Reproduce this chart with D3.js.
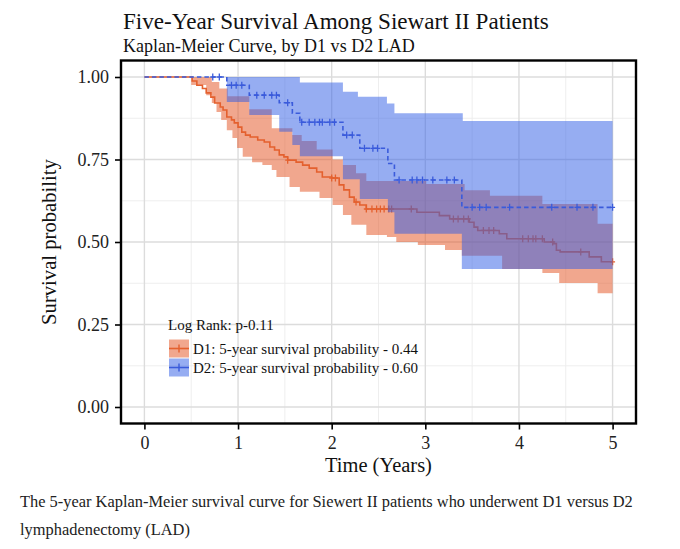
<!DOCTYPE html>
<html><head><meta charset="utf-8">
<script src="https://cdn.jsdelivr.net/npm/d3@7"></script>
<style>body{margin:0;background:#fff} svg{display:block}</style>
</head><body>
<svg id="c" width="680" height="549"></svg>
<script>
// ---------- data ----------
const titleText = "Five-Year Survival Among Siewart II Patients";
const subtitleText = "Kaplan-Meier Curve, by D1 vs D2 LAD";
const xLabel = "Time (Years)";
const yLabel = "Survival probability";
const captionLines = ["The 5-year Kaplan-Meier survival curve for Siewert II patients who underwent D1 versus D2",
                      "lymphadenectomy (LAD)"];
const xTicks = [0, 1, 2, 3, 4, 5];
const yTicks = [0, 0.25, 0.5, 0.75, 1];
const yTickLabels = ["0.00", "0.25", "0.50", "0.75", "1.00"];
const legendTitle = "Log Rank: p-0.11";
const seriesNames = ["D1: 5-year survival probability - 0.44", "D2: 5-year survival probability - 0.60"];

// D1 step curve
const d1Time = [0.51,0.56,0.62,0.66,0.71,0.75,0.81,0.84,0.88,0.93,0.96,1.00,1.04,1.08,1.13,1.21,1.28,1.34,1.39,1.44,1.49,1.53,1.62,1.69,1.76,1.84,1.90,2.00,2.08,2.13,2.19,2.24,2.30,2.37,2.91,3.15,3.26,3.47,3.52,3.56,3.79,3.87,4.27,4.37,4.40,4.44,4.75,4.88];
const d1Surv = [0.988,0.975,0.965,0.952,0.939,0.921,0.909,0.900,0.879,0.870,0.861,0.848,0.833,0.824,0.818,0.809,0.803,0.788,0.779,0.764,0.758,0.748,0.742,0.733,0.724,0.712,0.697,0.694,0.673,0.658,0.636,0.621,0.612,0.600,0.59,0.58,0.57,0.56,0.545,0.535,0.525,0.51,0.50,0.495,0.475,0.47,0.455,0.44];
const d1UpTime = [0.50,0.72,0.80,0.89,1.12,1.36,1.58,1.68,1.84,2.01,2.12,2.26,2.37,3.01,3.42,3.69,4.25,4.84];
const d1Up = [1.0,0.985,0.965,0.942,0.902,0.845,0.824,0.806,0.78,0.75,0.733,0.708,0.685,0.676,0.657,0.64,0.615,0.555];
const d1LoTime = [0.50,0.66,0.72,0.77,0.82,0.88,0.94,0.99,1.05,1.15,1.26,1.36,1.41,1.55,1.66,1.87,2.01,2.12,2.21,2.37,2.59,2.69,2.92,3.21,3.39,3.82,4.25,4.43,4.84];
const d1Lo = [0.976,0.945,0.921,0.894,0.87,0.839,0.815,0.785,0.758,0.742,0.733,0.718,0.697,0.667,0.652,0.633,0.612,0.582,0.552,0.521,0.515,0.50,0.491,0.476,0.458,0.418,0.406,0.376,0.345];
const d1Censor = [1.53,2.00,2.04,2.26,2.37,2.43,2.48,2.52,2.56,2.61,2.64,2.85,3.30,3.35,3.41,3.46,3.62,3.68,3.73,4.04,4.10,4.15,4.18,4.25,4.36,4.66,5.0];

// D2 step curve
const d2Time = [0.88,1.12,1.44,1.58,1.66,2.12,2.30,2.60,2.67,3.39];
const d2Surv = [0.975,0.945,0.922,0.89,0.863,0.824,0.784,0.738,0.688,0.605];
const d2UpTime = [0.88,1.66,2.12,2.28,2.59,2.67,3.40];
const d2Up = [1.0,0.983,0.955,0.94,0.92,0.89,0.867];
const d2LoTime = [0.88,1.12,1.44,1.58,1.66,2.12,2.30,2.60,2.67,3.39];
const d2Lo = [0.924,0.885,0.834,0.794,0.76,0.69,0.63,0.59,0.525,0.418];
const d2Censor = [0.73,0.80,0.93,0.98,1.04,1.20,1.28,1.36,1.41,1.53,1.68,1.76,1.82,1.87,1.90,1.98,2.03,2.16,2.22,2.35,2.44,2.49,2.72,2.86,2.91,2.97,3.08,3.23,3.31,3.50,3.58,3.65,3.90,4.35,4.62,4.79,5.0];
const tMax = 5.0;

// ---------- styles ----------
const red = "#E4602E", redFill = "#E4501E";
const blue = "#3A5BDB", blueFill = "#2E5CE6";
const serif = "'Liberation Serif','Times New Roman',serif";

const svg = d3.select("#c");
const panel = {l:121, r:636, t:60.5, b:423.5};
const x = d3.scaleLinear().domain([-0.25, 5.25]).range([panel.l, panel.r]);
const y = d3.scaleLinear().domain([-0.05, 1.05]).range([panel.b, panel.t]);

function fit(sel, w) {
  const L = sel.node().getComputedTextLength();
  sel.attr("font-size", parseFloat(sel.attr("font-size")) * w / L);
  return sel;
}
function stepVal(ts, vs, t, init) {
  const i = d3.bisectRight(ts, t) - 1;
  return i < 0 ? init : vs[i];
}

svg.append("rect").attr("width", 680).attr("height", 549).attr("fill", "#fff");

svg.append("defs").append("clipPath").attr("id", "clip")
  .append("rect").attr("x", panel.l).attr("y", panel.t)
  .attr("width", panel.r - panel.l).attr("height", panel.b - panel.t);

// grid
const g = svg.append("g").attr("clip-path", "url(#clip)");
const xMinor = d3.range(0.5, 5, 1), yMinor = d3.range(0.125, 1, 0.25);
g.selectAll(".xm").data(xMinor).join("line")
  .attr("x1", d => x(d)).attr("x2", d => x(d)).attr("y1", panel.t).attr("y2", panel.b)
  .attr("stroke", "#ECECEC").attr("stroke-width", 0.9);
g.selectAll(".ym").data(yMinor).join("line")
  .attr("y1", d => y(d)).attr("y2", d => y(d)).attr("x1", panel.l).attr("x2", panel.r)
  .attr("stroke", "#ECECEC").attr("stroke-width", 0.9);
g.selectAll(".xM").data(xTicks).join("line")
  .attr("x1", d => x(d)).attr("x2", d => x(d)).attr("y1", panel.t).attr("y2", panel.b)
  .attr("stroke", "#DCDCDC").attr("stroke-width", 1.4);
g.selectAll(".yM").data(yTicks).join("line")
  .attr("y1", d => y(d)).attr("y2", d => y(d)).attr("x1", panel.l).attr("x2", panel.r)
  .attr("stroke", "#DCDCDC").attr("stroke-width", 1.4);

// helpers for series
function bandData(upT, up, loT, lo) {
  const ts = Array.from(new Set(upT.concat(loT))).sort((a, b) => a - b);
  const rows = ts.map(t => ({t, up: stepVal(upT, up, t, 1), lo: stepVal(loT, lo, t, 1)}));
  const last = rows[rows.length - 1];
  rows.push({t: tMax, up: last.up, lo: last.lo});
  return rows;
}
function curveData(ts, vs) {
  const rows = [{t: 0, s: 1}];
  ts.forEach((t, i) => rows.push({t, s: vs[i]}));
  rows.push({t: tMax, s: vs[vs.length - 1]});
  return rows;
}
const area = d3.area().curve(d3.curveStepAfter).x(d => x(d.t)).y0(d => y(d.lo)).y1(d => y(d.up));
const line = d3.line().curve(d3.curveStepAfter).x(d => x(d.t)).y(d => y(d.s));

function drawSeries(ts, vs, upT, up, loT, lo, cens, col, fillCol, dash) {
  g.append("path").datum(bandData(upT, up, loT, lo)).attr("d", area)
    .attr("fill", fillCol).attr("fill-opacity", 0.5);
  g.append("path").datum(curveData(ts, vs)).attr("d", line)
    .attr("fill", "none").attr("stroke", col).attr("stroke-width", 1.6)
    .attr("stroke-dasharray", dash);
  g.selectAll(null).data(cens).join("line")
    .attr("x1", d => x(d)).attr("x2", d => x(d))
    .attr("y1", d => y(stepVal(ts, vs, d, 1)) - 3.5).attr("y2", d => y(stepVal(ts, vs, d, 1)) + 3.5)
    .attr("stroke", col).attr("stroke-width", 1.3);
  g.selectAll(null).data(cens).join("line")
    .attr("x1", d => x(d) - 2.5).attr("x2", d => x(d) + 2.5)
    .attr("y1", d => y(stepVal(ts, vs, d, 1))).attr("y2", d => y(stepVal(ts, vs, d, 1)))
    .attr("stroke", col).attr("stroke-width", 1.3);
}
drawSeries(d1Time, d1Surv, d1UpTime, d1Up, d1LoTime, d1Lo, d1Censor, red, redFill, null);
drawSeries(d2Time, d2Surv, d2UpTime, d2Up, d2LoTime, d2Lo, d2Censor, blue, blueFill, "4.5,3");

// panel border
svg.append("rect").attr("x", panel.l).attr("y", panel.t)
  .attr("width", panel.r - panel.l).attr("height", panel.b - panel.t)
  .attr("fill", "none").attr("stroke", "#000").attr("stroke-width", 2.4);

// axes
const xAxis = svg.append("g").attr("transform", `translate(0,${panel.b})`)
  .call(d3.axisBottom(x).tickValues(xTicks).tickFormat(d3.format("d")).tickSize(6).tickPadding(5));
const yAxis = svg.append("g").attr("transform", `translate(${panel.l},0)`)
  .call(d3.axisLeft(y).tickValues(yTicks).tickFormat((d, i) => yTickLabels[i]).tickSize(6).tickPadding(6));
[xAxis, yAxis].forEach(a => {
  a.select(".domain").remove();
  a.selectAll(".tick line").attr("stroke", "#000").attr("stroke-width", 1.6);
  a.selectAll(".tick text").attr("font-family", serif).attr("font-size", 18).attr("fill", "#222");
});
xAxis.selectAll(".tick text").attr("dy", "0.78em");

// titles
fit(svg.append("text").attr("x", 123).attr("y", 29).attr("font-family", serif).attr("font-size", 22)
  .attr("fill", "#111").text(titleText), 426);
fit(svg.append("text").attr("x", 123).attr("y", 51.5).attr("font-family", serif).attr("font-size", 18)
  .attr("fill", "#111").text(subtitleText), 292);
fit(svg.append("text").attr("x", x(2.5)).attr("y", 472).attr("text-anchor", "middle")
  .attr("font-family", serif).attr("font-size", 20).attr("fill", "#111").text(xLabel), 107);
fit(svg.append("text").attr("transform", "translate(56,242) rotate(-90)").attr("text-anchor", "middle")
  .attr("font-family", serif).attr("font-size", 20).attr("fill", "#111").text(yLabel), 166);

// legend
const lg = svg.append("g");
lg.append("text").attr("x", 168).attr("y", 330).attr("font-family", serif).attr("font-size", 15)
  .attr("fill", "#111").text(legendTitle);
const keys = [{c: red, f: redFill, y: 339.5}, {c: blue, f: blueFill, y: 358.5}];
keys.forEach((k, i) => {
  lg.append("rect").attr("x", 169).attr("y", k.y).attr("width", 20).attr("height", 18)
    .attr("fill", k.f).attr("fill-opacity", 0.5);
  lg.append("line").attr("x1", 169).attr("x2", 189).attr("y1", k.y + 9).attr("y2", k.y + 9)
    .attr("stroke", k.c).attr("stroke-width", 1.6);
  lg.append("line").attr("x1", 179).attr("x2", 179).attr("y1", k.y + 5).attr("y2", k.y + 13)
    .attr("stroke", k.c).attr("stroke-width", 1.4);
  lg.append("text").attr("x", 193).attr("y", k.y + 14.5).attr("font-family", serif).attr("font-size", 15)
    .attr("fill", "#111").text(seriesNames[i]);
});

// caption
const cap = svg.append("g");
const c1 = cap.append("text").attr("x", 20).attr("y", 507).attr("font-family", serif).attr("font-size", 16)
  .attr("fill", "#222").text(captionLines[0]);
fit(c1, 613);
const fs = c1.attr("font-size");
cap.append("text").attr("x", 20).attr("y", 535).attr("font-family", serif).attr("font-size", fs)
  .attr("fill", "#222").text(captionLines[1]);
</script>
</body></html>
